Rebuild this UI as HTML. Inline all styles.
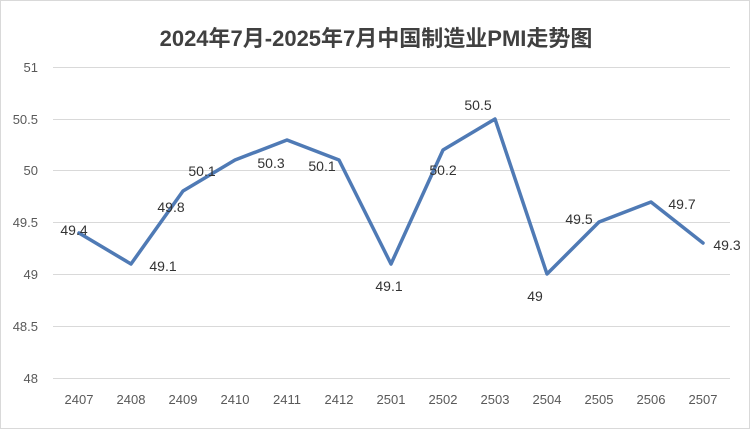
<!DOCTYPE html>
<html><head><meta charset="utf-8"><style>
html,body{margin:0;padding:0;background:#fff}
svg{display:block}
</style></head><body>
<svg width="750" height="429" xmlns="http://www.w3.org/2000/svg" font-family="Liberation Sans, Noto Sans CJK SC, sans-serif">
<rect x="0.5" y="0.5" width="749" height="428" fill="#fff" stroke="#d9d9d9"/>
<text x="376" y="46" text-anchor="middle" font-size="22" font-weight="bold" fill="#404040">2024年7月-2025年7月中国制造业PMI走势图</text>
<g stroke="#d9d9d9" stroke-width="1">
<line x1="53" x2="730" y1="67.5" y2="67.5"/>
<line x1="53" x2="730" y1="119.5" y2="119.5"/>
<line x1="53" x2="730" y1="170.5" y2="170.5"/>
<line x1="53" x2="730" y1="222.5" y2="222.5"/>
<line x1="53" x2="730" y1="274.5" y2="274.5"/>
<line x1="53" x2="730" y1="326.5" y2="326.5"/>
<line x1="53" x2="730" y1="378.5" y2="378.5"/>
</g>
<g font-size="13" fill="#595959" text-anchor="end">
<text x="38" y="72">51</text><text x="38" y="124">50.5</text><text x="38" y="175">50</text>
<text x="38" y="227">49.5</text><text x="38" y="279">49</text><text x="38" y="331">48.5</text><text x="38" y="383">48</text>
</g>
<g font-size="13" fill="#595959" text-anchor="middle">
<text x="79" y="404">2407</text><text x="131" y="404">2408</text><text x="183" y="404">2409</text>
<text x="235" y="404">2410</text><text x="287" y="404">2411</text><text x="339" y="404">2412</text>
<text x="391" y="404">2501</text><text x="443" y="404">2502</text><text x="495" y="404">2503</text>
<text x="547" y="404">2504</text><text x="599" y="404">2505</text><text x="651" y="404">2506</text>
<text x="703" y="404">2507</text>
</g>
<polyline fill="none" stroke="#4f7ab5" stroke-width="3.5" stroke-linejoin="round" stroke-linecap="round"
points="79,233 131,264 183,191 235,160 287,140 339,160 391,264 443,150 495,119 547,274 599,222 651,202 703,243"/>
<g font-size="14" fill="#333" text-anchor="middle">
<text x="74" y="235">49.4</text><text x="163" y="271">49.1</text><text x="171" y="212">49.8</text>
<text x="202" y="176">50.1</text><text x="271" y="168">50.3</text><text x="322" y="171">50.1</text>
<text x="389" y="291">49.1</text><text x="443" y="175">50.2</text><text x="478" y="110">50.5</text>
<text x="535" y="301">49</text><text x="579" y="224">49.5</text><text x="682" y="209">49.7</text>
<text x="727" y="250">49.3</text>
</g>
</svg>
</body></html>
